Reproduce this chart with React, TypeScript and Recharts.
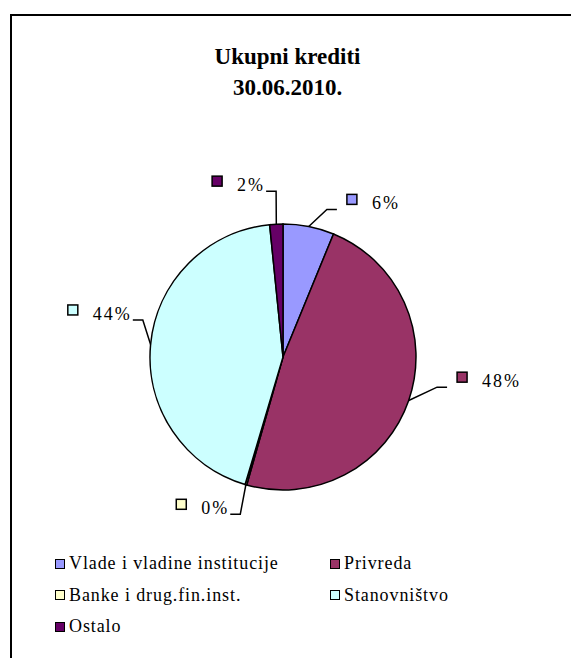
import { PieChart, Pie, Cell } from 'recharts'

const categories = [
  'Vlade i vladine institucije',
  'Privreda',
  'Banke i drug.fin.inst.',
  'Stanovništvo',
  'Ostalo',
]
const shares = [6.2, 48.2, 0.2, 43.8, 1.6]
const colors = ['#9999FF', '#993366', '#FFFFCC', '#CCFFFF', '#660066']

const title = ['Ukupni krediti', '30.06.2010.']

const data = categories.map((name, i) => ({ name, value: shares[i] }))

// Excel-ish leader placement: angle nudge (deg, clockwise) and length past the rim
const labelShift = [5.4, -8, -1, 9.4, 0.5]
const labelExt = [21, 24, 30, 12, 33]

const RAD = Math.PI / 180
const FONT = "'Liberation Serif', 'Times New Roman', Times, serif"

const textWidth = (s: string) =>
  s.split('').reduce((w, c) => w + (c === '%' ? 17 : 11), 0)

const renderLabel = (props: any) => {
  const { cx, cy, midAngle, outerRadius, percent, index } = props
  const a = midAngle * RAD
  const sx = cx + outerRadius * Math.cos(a)
  const sy = cy - outerRadius * Math.sin(a)
  const b = (midAngle - labelShift[index]) * RAD
  const r2 = outerRadius + labelExt[index]
  const ex = cx + r2 * Math.cos(b)
  const ey = cy - r2 * Math.sin(b)
  const right = ex > cx
  const hx = ex + (right ? 10 : -10)
  const txt = `${Math.round(percent * 100)}%`
  let markerX: number
  let textX: number
  if (right) {
    markerX = hx + 10
    textX = markerX + 11 + 14
  } else {
    textX = hx - 1 - textWidth(txt)
    markerX = textX - 14 - 11
  }
  return (
    <g key={`lbl-${index}`}>
      <path
        d={`M${sx},${sy}L${ex},${ey}L${hx},${ey}`}
        stroke="#000"
        strokeWidth={1.5}
        fill="none"
      />
      <rect
        x={markerX}
        y={ey - 15}
        width={10}
        height={10}
        fill={colors[index]}
        stroke="#000"
        strokeWidth={1.5}
      />
      <text
        x={textX}
        y={ey}
        fill="#000"
        style={{ fontFamily: FONT, fontSize: 18, letterSpacing: 2 }}
      >
        {txt}
      </text>
    </g>
  )
}

const Legend = () => (
  <div
    style={{
      position: 'absolute',
      left: 55,
      top: 548,
      display: 'grid',
      gridTemplateColumns: '275px 220px',
      fontFamily: FONT,
      fontSize: 18,
      letterSpacing: 0.9,
      color: '#000',
    }}
  >
    {categories.map((name, i) => (
      <div
        key={name}
        style={{ display: 'flex', alignItems: 'center', height: 31.5 }}
      >
        <span
          style={{
            display: 'inline-block',
            width: 8,
            height: 8,
            border: '1.5px solid #000',
            background: colors[i],
            marginRight: 4,
          }}
        />
        <span style={{ lineHeight: '31.5px' }}>{name}</span>
      </div>
    ))}
  </div>
)

export default function App() {
  return (
    <div
      style={{
        position: 'relative',
        width: 579,
        height: 666,
        margin: -8,
        overflow: 'hidden',
        background: '#fff',
        fontFamily: FONT,
      }}
    >
      <div
        style={{
          position: 'absolute',
          left: 10,
          top: 14,
          width: 620,
          height: 720,
          border: '2px solid #000',
        }}
      />
      <div
        style={{
          position: 'absolute',
          left: 0,
          top: 41,
          width: 575,
          textAlign: 'center',
          fontWeight: 'bold',
          fontSize: 23,
          lineHeight: '31px',
          color: '#000',
        }}
      >
        {title.map((t) => (
          <div key={t}>{t}</div>
        ))}
      </div>
      <div style={{ position: 'absolute', left: 0, top: 0 }}>
        <PieChart
          width={579}
          height={666}
          margin={{ top: 0, right: 0, bottom: 0, left: 0 }}
        >
          <Pie
            data={data}
            dataKey="value"
            nameKey="name"
            cx={283}
            cy={357}
            outerRadius={133}
            startAngle={90}
            endAngle={-270}
            stroke="#000"
            strokeWidth={1.5}
            label={renderLabel}
            labelLine={false}
            isAnimationActive={false}
          >
            {data.map((d, i) => (
              <Cell key={d.name} fill={colors[i]} />
            ))}
          </Pie>
        </PieChart>
      </div>
      <Legend />
    </div>
  )
}
